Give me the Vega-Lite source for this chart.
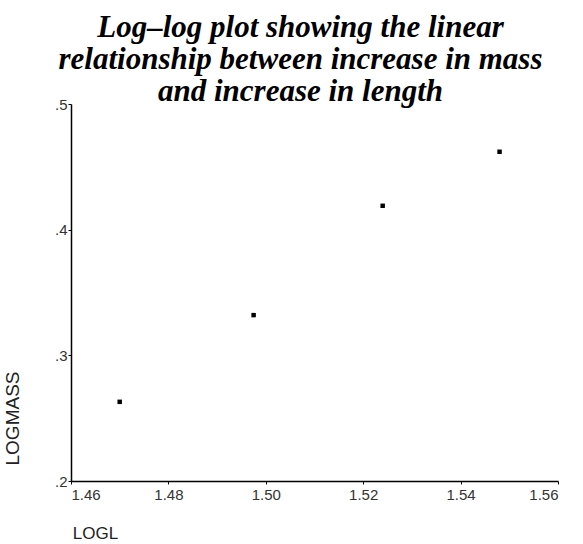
{
  "$schema": "https://vega.github.io/schema/vega-lite/v6.json",
  "autosize": {"type": "none"},
  "width": 487,
  "height": 377,
  "padding": {"left": 71, "top": 104, "right": 25, "bottom": 63},
  "background": "white",
  "title": {
    "text": ["Log–log plot showing the linear", "relationship between increase in mass", "and increase in length"],
    "font": "Liberation Serif",
    "fontSize": 31,
    "fontWeight": "bold",
    "fontStyle": "italic",
    "color": "black",
    "lineHeight": 32,
    "anchor": "middle",
    "frame": "group",
    "baseline": "alphabetic",
    "offset": 0,
    "dx": -14,
    "dy": 35
  },
  "data": {
    "values": [
      {"LOGL": 1.470, "LOGMASS": 0.263},
      {"LOGL": 1.4975, "LOGMASS": 0.332},
      {"LOGL": 1.524, "LOGMASS": 0.419},
      {"LOGL": 1.548, "LOGMASS": 0.462}
    ]
  },
  "mark": {"type": "square", "size": 20, "color": "black", "opacity": 1},
  "encoding": {
    "x": {
      "field": "LOGL",
      "type": "quantitative",
      "scale": {"domain": [1.46, 1.56], "nice": false, "zero": false},
      "axis": {
        "values": [1.46, 1.48, 1.50, 1.52, 1.54, 1.56],
        "format": ".2f",
        "grid": false,
        "domainColor": "black",
        "domainWidth": 1.5,
        "tickColor": "black",
        "tickSize": 3,
        "labelFont": "Liberation Sans",
        "labelFontSize": 15,
        "labelColor": "#333",
        "labelPadding": 3,
        "title": "LOGL",
        "titleFont": "Liberation Sans",
        "titleFontSize": 17,
        "titleFontWeight": "normal",
        "titleColor": "#222",
        "titleX": 24,
        "titleY": 52,
        "titleAlign": "center",
        "titleBaseline": "middle"
      }
    },
    "y": {
      "field": "LOGMASS",
      "type": "quantitative",
      "scale": {"domain": [0.2, 0.5], "nice": false, "zero": false},
      "axis": {
        "values": [0.2, 0.3, 0.4, 0.5],
        "labelExpr": "replace(format(datum.value, '.1f'), '0.', '.')",
        "grid": false,
        "domainColor": "black",
        "domainWidth": 1.5,
        "tickColor": "black",
        "tickSize": 3,
        "labelFont": "Liberation Sans",
        "labelFontSize": 15,
        "labelColor": "#333",
        "labelPadding": 1,
        "title": "LOGMASS",
        "titleFont": "Liberation Sans",
        "titleFontSize": 19,
        "titleFontWeight": "normal",
        "titleColor": "#222",
        "titleX": -59,
        "titleY": 314,
        "titleAngle": -90,
        "titleAlign": "center",
        "titleBaseline": "middle"
      }
    }
  },
  "config": {"view": {"stroke": null}}
}
